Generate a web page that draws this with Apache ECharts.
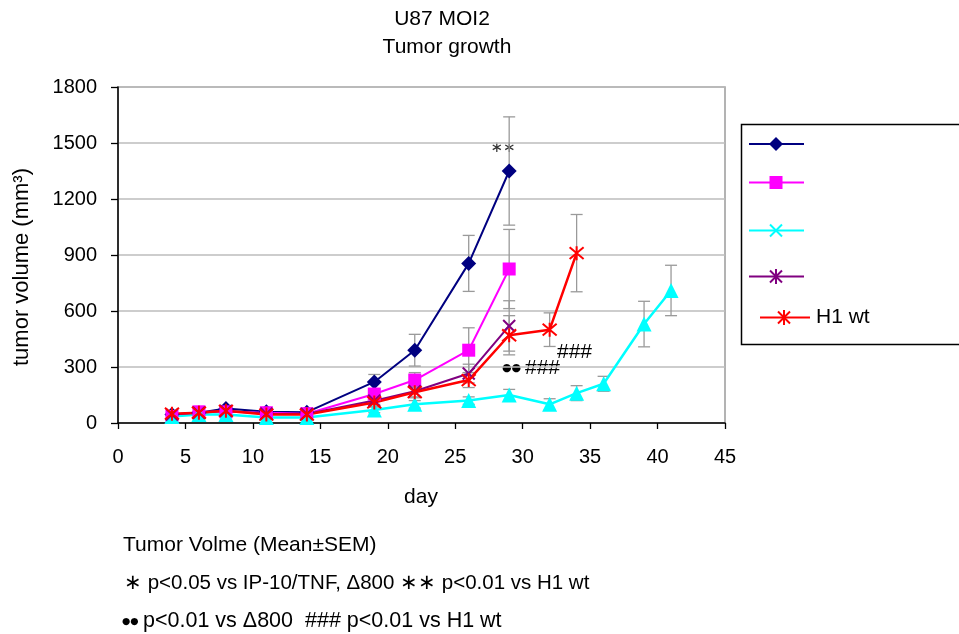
<!DOCTYPE html>
<html>
<head>
<meta charset="utf-8">
<script src="https://cdn.jsdelivr.net/npm/echarts@6/dist/echarts.min.js"></script>
<style>
  html, body { margin: 0; padding: 0; background: #fff; }
  #chart { width: 959px; height: 634px; }
</style>
</head>
<body>
<div id="chart"></div>
<script>
// Days on which tumours were measured
const daysShort = [4, 6, 8, 11, 14, 19, 22, 26, 29];
const daysH1 = [4, 6, 8, 11, 14, 19, 22, 26, 29, 32, 34];
const daysLong = [4, 6, 8, 11, 14, 19, 22, 26, 29, 32, 34, 36, 39, 41];

// Mean tumour volume (mm3) and SEM per group
const navyMean = [45, 55, 78, 60, 58, 220, 390, 855, 1350];
const navySem = [10, 10, 10, 10, 10, 40, 85, 150, 290];
const magentaMean = [35, 60, 60, 55, 50, 155, 230, 390, 825];
const magentaSem = [8, 8, 8, 8, 8, 25, 40, 120, 212];
const cyanMean = [35, 45, 45, 30, 30, 70, 100, 120, 150, 100, 160, 210, 530, 710];
const cyanSem = [5, 5, 5, 5, 5, 15, 20, 20, 30, 30, 40, 40, 122, 135];
const purpleMean = [45, 55, 65, 50, 48, 120, 170, 265, 520];
const purpleSem = [8, 8, 8, 8, 8, 20, 30, 50, 135];
const h1Mean = [50, 55, 65, 45, 45, 110, 165, 230, 470, 500, 910];
const h1Sem = [8, 8, 8, 8, 8, 20, 30, 40, 105, 90, 207];

// Axis ticks
const xTicks = [0, 5, 10, 15, 20, 25, 30, 35, 40, 45];
const yTicks = [0, 300, 600, 900, 1200, 1500, 1800];

const FONT = 'Liberation Sans, Arial, sans-serif';
const DEJAVU = 'DejaVu Sans, sans-serif';
const pts = (xs, ys) => xs.map((d, i) => [d, ys[i]]);
const bars = (xs, ys, es) => xs.map((d, i) => [d, ys[i] - es[i], ys[i] + es[i]]);

const xMark = 'path://M0,0L10,10M10,0L0,10';
const starMark = 'path://M5,0L5,10M0.8,0.8L9.2,9.2M9.2,0.8L0.8,9.2';

function errorSeries(xs, ys, es) {
  return {
    type: 'custom',
    z: 1,
    silent: true,
    data: bars(xs, ys, es),
    renderItem: function (params, api) {
      const lo = api.coord([api.value(0), api.value(1)]);
      const hi = api.coord([api.value(0), api.value(2)]);
      const cw = 6;
      const st = { stroke: '#9a9a9a', lineWidth: 1.3 };
      return {
        type: 'group',
        children: [
          { type: 'line', shape: { x1: lo[0], y1: lo[1], x2: hi[0], y2: hi[1] }, style: st },
          { type: 'line', shape: { x1: lo[0] - cw, y1: lo[1], x2: lo[0] + cw, y2: lo[1] }, style: st },
          { type: 'line', shape: { x1: hi[0] - cw, y1: hi[1], x2: hi[0] + cw, y2: hi[1] }, style: st }
        ]
      };
    }
  };
}

function lineSeries(name, xs, ys, color, symbol, size, stroked, lw) {
  return {
    name: name,
    type: 'line',
    z: 3,
    data: pts(xs, ys),
    symbol: symbol,
    symbolSize: size,
    showAllSymbol: true,
    lineStyle: { color: color, width: lw },
    itemStyle: stroked
      ? { color: color, borderColor: color, borderWidth: 2 }
      : { color: color, borderWidth: 0 },
    emphasis: { disabled: true },
    animation: false
  };
}

// Legend drawn as plain graphics inside a framed box
const lgX0 = 749, lgX1 = 804, lgMx = 776;
function legendLine(y, color, x0, x1) {
  return { type: 'line', shape: { x1: x0, y1: y, x2: x1, y2: y }, style: { stroke: color, lineWidth: 2 } };
}
function crossLines(cx, cy, r, color, withVertical) {
  const out = [
    { type: 'line', shape: { x1: cx - r, y1: cy - r, x2: cx + r, y2: cy + r }, style: { stroke: color, lineWidth: 2 } },
    { type: 'line', shape: { x1: cx + r, y1: cy - r, x2: cx - r, y2: cy + r }, style: { stroke: color, lineWidth: 2 } }
  ];
  if (withVertical) {
    out.push({ type: 'line', shape: { x1: cx, y1: cy - r - 1.5, x2: cx, y2: cy + r + 1.5 }, style: { stroke: color, lineWidth: 2 } });
  }
  return out;
}

const legendGraphics = [
  { type: 'rect', shape: { x: 741.5, y: 124.5, width: 230, height: 220 }, style: { fill: '#fff', stroke: '#000', lineWidth: 1.5 } },
  legendLine(144, '#000080', lgX0, lgX1),
  { type: 'polygon', shape: { points: [[lgMx, 137], [lgMx + 7, 144], [lgMx, 151], [lgMx - 7, 144]] }, style: { fill: '#000080' } },
  legendLine(182.5, '#ff00ff', lgX0, lgX1),
  { type: 'rect', shape: { x: lgMx - 6.5, y: 176, width: 13, height: 13 }, style: { fill: '#ff00ff' } },
  legendLine(230.5, '#00ffff', lgX0, lgX1),
  ...crossLines(lgMx, 230.5, 6, '#00ffff', false),
  legendLine(276.5, '#800080', lgX0, lgX1),
  ...crossLines(lgMx, 276.5, 6, '#800080', true),
  legendLine(317.5, '#ff0000', 760, 810),
  ...crossLines(784, 317.5, 6, '#ff0000', true),
  { type: 'text', style: { x: 816, y: 317.5, text: 'H1 wt', font: '21px ' + FONT, fill: '#000', textAlign: 'left', textVerticalAlign: 'middle' } }
];

const textGraphics = [
  { type: 'text', style: { x: 442, y: 19, text: 'U87 MOI2', font: '21px ' + FONT, fill: '#000', textAlign: 'center', textVerticalAlign: 'middle' } },
  { type: 'text', style: { x: 447, y: 47, text: 'Tumor growth', font: '21px ' + FONT, fill: '#000', textAlign: 'center', textVerticalAlign: 'middle' } },
  { type: 'text', x: 22, y: 267, rotation: Math.PI / 2, style: { x: 0, y: 0, text: 'tumor volume (mm³)', font: '22px ' + FONT, fill: '#000', textAlign: 'center', textVerticalAlign: 'middle' } },
  { type: 'text', style: { x: 421, y: 497, text: 'day', font: '21px ' + FONT, fill: '#000', textAlign: 'center', textVerticalAlign: 'middle' } },
  // significance marks
  { type: 'text', style: { x: 503, y: 148, text: '∗∗', font: '15px ' + DEJAVU, fill: '#333', textAlign: 'center', textVerticalAlign: 'middle' } },
  { type: 'text', style: { x: 502, y: 368.5, text: '●●', font: '11px ' + DEJAVU, fill: '#000', textAlign: 'left', textVerticalAlign: 'middle' } },
  { type: 'text', style: { x: 525, y: 368.5, text: '###', font: '21px ' + FONT, fill: '#000', textAlign: 'left', textVerticalAlign: 'middle' } },
  { type: 'text', style: { x: 557, y: 352, text: '###', font: '21px ' + FONT, fill: '#000', textAlign: 'left', textVerticalAlign: 'middle' } },
  // footnotes
  { type: 'text', style: { x: 123, y: 545, text: 'Tumor Volme (Mean±SEM)', font: '21px ' + FONT, fill: '#000', textAlign: 'left', textVerticalAlign: 'middle' } },
  { type: 'text', style: { x: 124, y: 583, text: '∗ p<0.05 vs IP-10/TNF, Δ800 ∗∗ p<0.01 vs H1 wt', font: '20.5px ' + FONT, fill: '#000', textAlign: 'left', textVerticalAlign: 'middle' } },
  { type: 'text', style: { x: 122, y: 622, text: '●●', font: '9.5px ' + DEJAVU, fill: '#000', textAlign: 'left', textVerticalAlign: 'middle' } },
  { type: 'text', style: { x: 143, y: 621, text: 'p<0.01 vs Δ800  ### p<0.01 vs H1 wt', font: '21.5px ' + FONT, fill: '#000', textAlign: 'left', textVerticalAlign: 'middle' } }
];

const chart = echarts.init(document.getElementById('chart'), null, { renderer: 'canvas' });
chart.setOption({
  animation: false,
  backgroundColor: '#fff',
  textStyle: { fontFamily: FONT },
  grid: { left: 118, right: 234, top: 87, bottom: 211, show: true, borderColor: '#9a9a9a', borderWidth: 1.5, backgroundColor: 'transparent' },
  xAxis: {
    type: 'value',
    min: xTicks[0],
    max: xTicks[xTicks.length - 1],
    interval: 5,
    axisLine: { show: true, onZero: false, lineStyle: { color: '#000', width: 1.5 } },
    axisTick: { show: true, inside: false, length: 6, lineStyle: { color: '#000', width: 1.3 } },
    axisLabel: { color: '#000', fontSize: 20, fontFamily: FONT, margin: 24, formatter: v => String(v) },
    splitLine: { show: false }
  },
  yAxis: {
    type: 'value',
    min: yTicks[0],
    max: yTicks[yTicks.length - 1],
    interval: 300,
    axisLine: { show: true, lineStyle: { color: '#000', width: 1.5 } },
    axisTick: { show: true, inside: false, length: 7, lineStyle: { color: '#000', width: 1.3 } },
    axisLabel: { color: '#000', fontSize: 20, fontFamily: FONT, margin: 21, formatter: v => String(v) },
    splitLine: { show: true, lineStyle: { color: '#bdbdbd', width: 1.5 } }
  },
  series: [
    errorSeries(daysShort, navyMean, navySem),
    errorSeries(daysShort, magentaMean, magentaSem),
    errorSeries(daysLong, cyanMean, cyanSem),
    errorSeries(daysShort, purpleMean, purpleSem),
    errorSeries(daysH1, h1Mean, h1Sem),
    lineSeries('group A', daysShort, navyMean, '#000080', 'diamond', 15, false, 2),
    lineSeries('group B', daysShort, magentaMean, '#ff00ff', 'rect', 13, false, 2),
    lineSeries('group C', daysLong, cyanMean, '#00ffff', 'triangle', 15, false, 2.5),
    lineSeries('group D', daysShort, purpleMean, '#800080', xMark, 12, true, 2),
    lineSeries('H1 wt', daysH1, h1Mean, '#ff0000', starMark, 14, true, 2.5)
  ],
  graphic: legendGraphics.concat(textGraphics)
});
</script>
</body>
</html>
